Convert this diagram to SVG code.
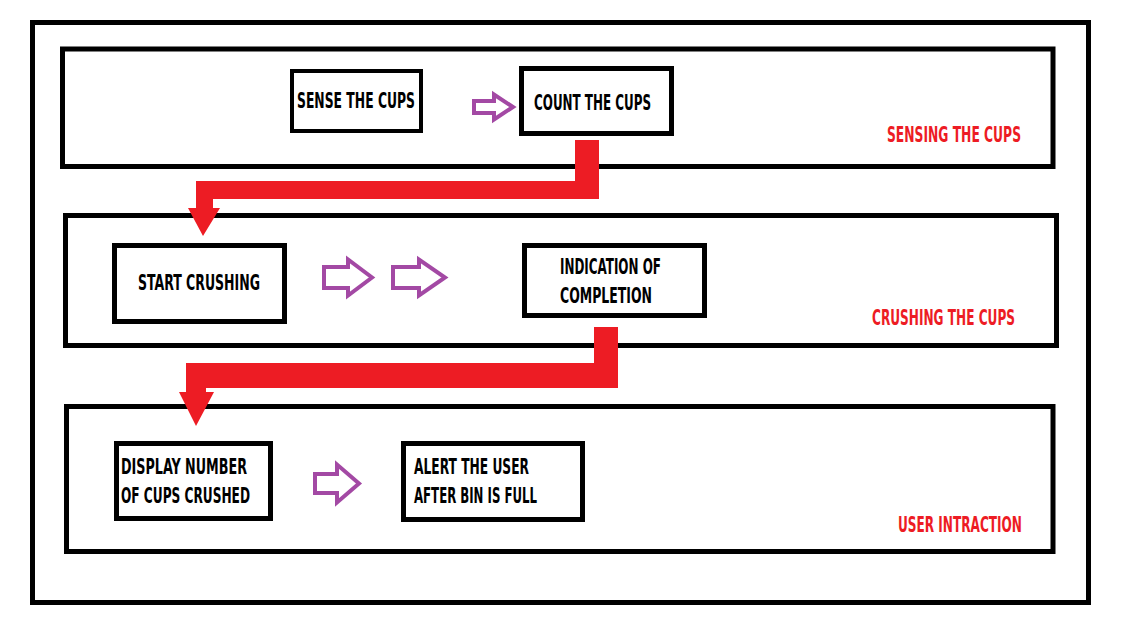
<svg xmlns="http://www.w3.org/2000/svg" width="1141" height="642" viewBox="0 0 1141 642">
<style>
.frame{fill:none;stroke:#000;stroke-width:5}
.box{fill:#fff;stroke:#000;stroke-width:5}
.t{font-family:"Liberation Sans Narrow","DejaVu Sans Condensed","Liberation Sans",sans-serif;font-stretch:condensed;font-weight:bold;font-size:21px;fill:#000}
.lbl{font-family:"Liberation Sans Narrow","DejaVu Sans Condensed","Liberation Sans",sans-serif;font-stretch:condensed;font-weight:bold;font-size:21px;fill:#ED1C24}
.pa{fill:#fff;stroke:#A349A4;stroke-width:4;stroke-linejoin:miter}
.red{fill:#ED1C24}
</style>
<rect width="1141" height="642" fill="#fff"/>
<rect class="frame" x="32.5" y="22.5" width="1056" height="580"/>
<g id="panel-sensing">
<rect class="frame" x="62.5" y="49" width="990.5" height="117.5"/>
<text class="lbl" x="887" y="142" textLength="134" lengthAdjust="spacingAndGlyphs">SENSING THE CUPS</text>
</g>
<g id="panel-crushing">
<rect class="frame" x="65.5" y="215.5" width="991" height="130"/>
<text class="lbl" x="872" y="325" textLength="143" lengthAdjust="spacingAndGlyphs">CRUSHING THE CUPS</text>
</g>
<g id="panel-user">
<rect class="frame" x="66.5" y="406.5" width="986.5" height="145"/>
<text class="lbl" x="898" y="532" textLength="124" lengthAdjust="spacingAndGlyphs">USER INTRACTION</text>
</g>
<g id="connectors">
<polygon class="pa" points="474,101 494,101 494,94.5 513,107 494,119.5 494,113 474,113"/>
<polygon class="pa" points="324,267 348,267 348,259.5 372,277.5 348,295.5 348,288 324,288"/>
<polygon class="pa" points="393,267 419,267 419,259.5 445,277.5 419,295.5 419,288 393,288"/>
<polygon class="pa" points="315,474 337,474 337,464.5 359,483.5 337,502.5 337,493 315,493"/>
<path class="red" d="M575,140 H599 V199 H213 V208 H220 L203,236 L188,208 H196 V181 H575 Z"/>
<path class="red" d="M594,327 H618 V388 H206 V392 H214 L196,426 L179,392 H186 V363 H594 Z"/>
</g>
<g id="sense">
<rect class="box" x="292" y="71" width="129" height="60" style="stroke-width:4"/>
<text class="t" x="297" y="108" textLength="118" lengthAdjust="spacingAndGlyphs">SENSE THE CUPS</text>
</g>
<g id="count">
<rect class="box" x="521.5" y="68.5" width="150" height="65"/>
<text class="t" x="534" y="110" textLength="117" lengthAdjust="spacingAndGlyphs">COUNT THE CUPS</text>
</g>
<g id="start">
<rect class="box" x="114.5" y="245.5" width="170" height="76"/>
<text class="t" x="138" y="290" textLength="122" lengthAdjust="spacingAndGlyphs">START CRUSHING</text>
</g>
<g id="indication">
<rect class="box" x="524.5" y="245.5" width="180" height="70"/>
<text class="t" x="560" y="274" textLength="101" lengthAdjust="spacingAndGlyphs">INDICATION OF</text>
<text class="t" x="560" y="303" textLength="92" lengthAdjust="spacingAndGlyphs">COMPLETION</text>
</g>
<g id="display">
<rect class="box" x="116.5" y="443.5" width="154" height="75"/>
<text class="t" x="121" y="474" textLength="126" lengthAdjust="spacingAndGlyphs">DISPLAY  NUMBER</text>
<text class="t" x="121" y="503" textLength="129" lengthAdjust="spacingAndGlyphs">OF CUPS CRUSHED</text>
</g>
<g id="alert">
<rect class="box" x="403.5" y="443.5" width="179" height="76"/>
<text class="t" x="414" y="474" textLength="115" lengthAdjust="spacingAndGlyphs">ALERT THE USER</text>
<text class="t" x="414" y="503" textLength="123" lengthAdjust="spacingAndGlyphs">AFTER BIN IS FULL</text>
</g>
</svg>
